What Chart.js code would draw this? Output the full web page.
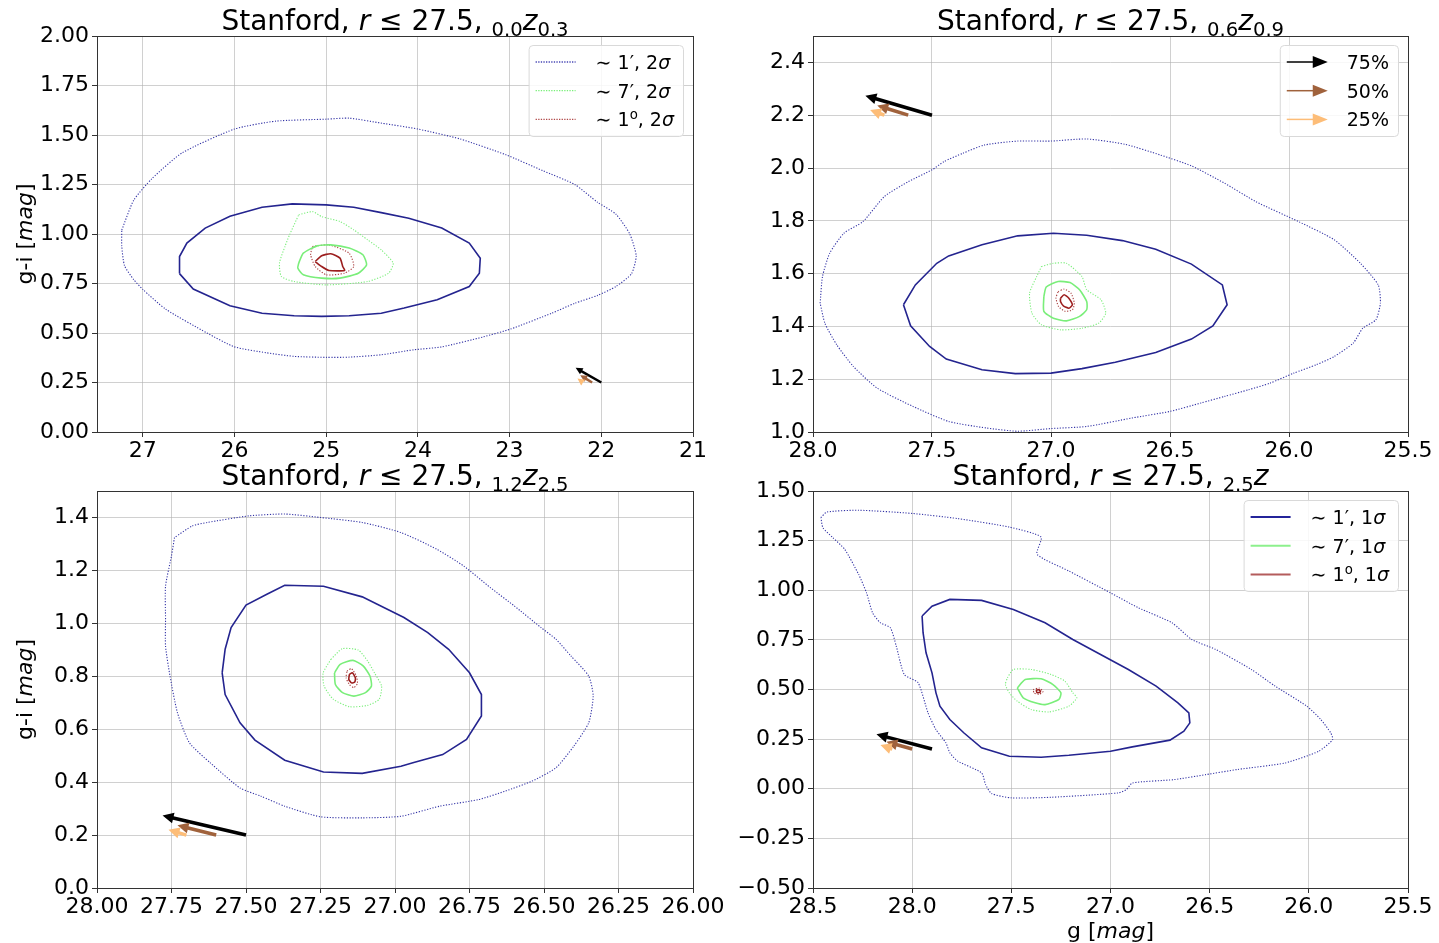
<!DOCTYPE html>
<html>
<head>
<meta charset="utf-8">
<script src="https://cdn.jsdelivr.net/npm/chart.js@4.4.1/dist/chart.umd.min.js"></script>
<style>
  body { margin: 0; background: #fff; width: 1439px; height: 943px; overflow: hidden; position: relative; }
  canvas { position: absolute; }
</style>
</head>
<body>
<canvas id="p1" width="740" height="470" style="left:0;top:0"></canvas>
<canvas id="p2" width="719" height="470" style="left:720px;top:0"></canvas>
<canvas id="p4" width="719" height="483" style="left:720px;top:460px"></canvas>
<canvas id="p3" width="740" height="483" style="left:0;top:460px"></canvas>
<script>
/* ── Data: contour vertices [g, g-i] ───────────────────────────────────── */
// panel 1 : 0.0 < z < 0.3
const p1Blue2s = [[27.23,1.02],[27.10,1.17],[26.90,1.28],[26.57,1.41],[26.00,1.53],[25.55,1.57],[25.00,1.58],[24.75,1.585],[24.40,1.56],[24.00,1.53],[23.54,1.48],[23.04,1.40],[22.64,1.32],[22.29,1.25],[22.04,1.16],[21.84,1.10],[21.69,1.00],[21.62,0.89],[21.67,0.80],[21.84,0.735],[22.04,0.69],[22.29,0.65],[22.54,0.60],[22.99,0.52],[23.29,0.48],[23.74,0.43],[24.05,0.415],[24.40,0.39],[24.75,0.378],[25.00,0.377],[25.35,0.382],[25.65,0.40],[26.00,0.43],[26.30,0.50],[26.75,0.62],[27.00,0.72],[27.10,0.77],[27.20,0.84],[27.23,0.94]];
const p1Blue1s = [[26.60,0.80],[26.60,0.886],[26.52,0.954],[26.32,1.03],[26.05,1.09],[25.70,1.135],[25.37,1.152],[25.00,1.147],[24.70,1.135],[24.40,1.108],[24.10,1.08],[23.74,1.03],[23.44,0.954],[23.32,0.878],[23.33,0.802],[23.44,0.735],[23.79,0.668],[24.15,0.626],[24.40,0.60],[24.75,0.587],[25.05,0.584],[25.35,0.587],[25.70,0.60],[26.05,0.638],[26.45,0.722]];
const p1Green2s = [[25.30,1.097],[25.15,1.113],[25.05,1.088],[24.85,1.063],[24.70,1.021],[24.55,0.971],[24.40,0.92],[24.27,0.853],[24.32,0.802],[24.55,0.76],[25.00,0.743],[25.35,0.76],[25.49,0.786],[25.51,0.853],[25.45,0.937],[25.40,0.996]];
const p1Green1s = [[25.30,0.853],[25.25,0.903],[25.10,0.94],[24.95,0.945],[24.75,0.929],[24.60,0.895],[24.56,0.844],[24.65,0.802],[24.85,0.777],[25.05,0.777],[25.25,0.794],[25.31,0.828]];
const p1Red2s = [[25.15,0.937],[24.97,0.945],[24.75,0.903],[24.70,0.836],[24.80,0.802],[25.00,0.794],[25.12,0.836],[25.17,0.895]];
const p1Red1s = [[25.12,0.861],[25.05,0.89],[24.95,0.90],[24.85,0.878],[24.82,0.836],[24.80,0.816],[24.97,0.816],[25.05,0.836]];

// panel 2 : 0.6 < z < 0.9
const p2Blue2s = [[27.97,1.488],[27.96,1.589],[27.93,1.677],[27.87,1.753],[27.79,1.797],[27.70,1.892],[27.60,1.948],[27.50,1.993],[27.45,2.024],[27.37,2.056],[27.28,2.087],[27.14,2.102],[27.00,2.102],[26.85,2.11],[26.69,2.09],[26.54,2.049],[26.41,2.008],[26.27,1.942],[26.14,1.873],[25.96,1.797],[25.81,1.728],[25.70,1.639],[25.625,1.557],[25.616,1.488],[25.635,1.425],[25.69,1.393],[25.73,1.337],[25.81,1.286],[25.885,1.255],[25.98,1.223],[26.08,1.185],[26.17,1.16],[26.27,1.135],[26.37,1.11],[26.50,1.078],[26.66,1.053],[26.85,1.021],[27.00,1.013],[27.14,1.003],[27.27,1.015],[27.43,1.04],[27.58,1.097],[27.73,1.166],[27.83,1.248],[27.90,1.33],[27.95,1.412]];
const p2Blue1s = [[27.62,1.482],[27.57,1.557],[27.48,1.639],[27.43,1.667],[27.29,1.709],[27.14,1.743],[26.99,1.753],[26.85,1.745],[26.70,1.725],[26.56,1.692],[26.41,1.636],[26.28,1.557],[26.26,1.482],[26.32,1.402],[26.41,1.352],[26.56,1.301],[26.73,1.264],[26.87,1.24],[27.00,1.223],[27.15,1.221],[27.29,1.236],[27.44,1.276],[27.51,1.324],[27.59,1.402]];
const p2Green2s = [[27.04,1.627],[26.99,1.639],[26.935,1.639],[26.87,1.589],[26.85,1.539],[26.79,1.501],[26.77,1.45],[26.80,1.412],[26.87,1.393],[26.96,1.387],[27.04,1.406],[27.08,1.45],[27.09,1.526],[27.06,1.589]];
const p2Green1s = [[27.03,1.513],[27.02,1.549],[26.97,1.57],[26.92,1.566],[26.88,1.539],[26.85,1.494],[26.85,1.463],[26.88,1.438],[26.935,1.421],[26.99,1.431],[27.03,1.457]];
const p2Red2s = [[26.97,1.532],[26.945,1.541],[26.916,1.526],[26.902,1.488],[26.91,1.463],[26.94,1.457],[26.968,1.475],[26.979,1.507]];
const p2Red1s = [[26.96,1.507],[26.945,1.52],[26.925,1.507],[26.91,1.482],[26.925,1.469],[26.948,1.478],[26.96,1.494]];

// panel 3 : 1.2 < z < 2.5
const p3Blue2s = [[27.74,1.324],[27.75,1.255],[27.77,1.141],[27.77,1.015],[27.77,0.914],[27.755,0.801],[27.73,0.662],[27.69,0.549],[27.62,0.473],[27.52,0.378],[27.45,0.347],[27.37,0.309],[27.25,0.269],[27.11,0.265],[26.98,0.271],[26.85,0.309],[26.72,0.334],[26.63,0.366],[26.54,0.404],[26.46,0.454],[26.40,0.536],[26.35,0.624],[26.335,0.725],[26.35,0.801],[26.41,0.877],[26.46,0.94],[26.51,0.984],[26.60,1.066],[26.68,1.135],[26.77,1.217],[26.86,1.28],[26.98,1.343],[27.11,1.381],[27.25,1.40],[27.37,1.413],[27.49,1.406],[27.63,1.381],[27.68,1.368]];
const p3Blue1s = [[27.58,0.813],[27.57,0.902],[27.55,0.984],[27.50,1.069],[27.43,1.11],[27.37,1.144],[27.24,1.14],[27.11,1.10],[26.97,1.022],[26.89,0.965],[26.82,0.902],[26.75,0.813],[26.71,0.731],[26.71,0.65],[26.76,0.561],[26.84,0.504],[26.94,0.473],[26.98,0.46],[27.11,0.433],[27.24,0.438],[27.37,0.483],[27.47,0.559],[27.52,0.624],[27.57,0.731]];
const p3Green2s = [[27.215,0.864],[27.177,0.904],[27.123,0.899],[27.092,0.858],[27.069,0.813],[27.045,0.763],[27.053,0.713],[27.092,0.69],[27.153,0.685],[27.207,0.713],[27.238,0.763],[27.241,0.813]];
const p3Green1s = [[27.203,0.813],[27.184,0.845],[27.141,0.86],[27.107,0.839],[27.084,0.801],[27.079,0.763],[27.099,0.738],[27.138,0.725],[27.176,0.738],[27.20,0.769]];
const p3Red2s = [[27.161,0.82],[27.146,0.829],[27.13,0.801],[27.126,0.773],[27.138,0.757],[27.153,0.769],[27.164,0.794]];
const p3Red1s = [[27.153,0.807],[27.143,0.813],[27.133,0.794],[27.135,0.778],[27.146,0.775],[27.155,0.788]];

// panel 4 : z > 2.5
const p4Blue2s = [[28.46,1.366],[28.43,1.394],[28.27,1.403],[28.00,1.387],[27.77,1.361],[27.51,1.318],[27.35,1.268],[27.37,1.181],[27.21,1.097],[27.00,0.987],[26.86,0.912],[26.69,0.836],[26.59,0.752],[26.47,0.702],[26.29,0.601],[26.17,0.517],[26.01,0.416],[25.94,0.349],[25.89,0.282],[25.88,0.248],[25.95,0.189],[26.12,0.13],[26.36,0.097],[26.52,0.071],[26.68,0.046],[26.89,0.029],[26.92,-0.004],[26.96,-0.021],[27.30,-0.043],[27.50,-0.046],[27.60,-0.024],[27.63,0.021],[27.65,0.08],[27.77,0.139],[27.81,0.181],[27.83,0.231],[27.88,0.298],[27.92,0.382],[27.97,0.534],[28.04,0.576],[28.08,0.718],[28.11,0.811],[28.16,0.836],[28.20,0.887],[28.23,0.987],[28.27,1.08],[28.34,1.206],[28.40,1.265],[28.45,1.315]];
const p4Blue1s = [[27.95,0.87],[27.90,0.92],[27.81,0.954],[27.65,0.949],[27.49,0.903],[27.33,0.836],[27.19,0.752],[27.05,0.676],[26.91,0.601],[26.77,0.517],[26.66,0.433],[26.605,0.382],[26.60,0.332],[26.63,0.29],[26.70,0.245],[26.89,0.211],[27.00,0.189],[27.21,0.169],[27.35,0.159],[27.51,0.164],[27.65,0.206],[27.74,0.282],[27.81,0.349],[27.86,0.416],[27.88,0.483],[27.90,0.584],[27.93,0.685],[27.945,0.786]];
const p4Green2s = [[27.52,0.559],[27.49,0.601],[27.40,0.601],[27.30,0.576],[27.23,0.542],[27.19,0.483],[27.17,0.458],[27.21,0.416],[27.31,0.387],[27.40,0.399],[27.47,0.441],[27.51,0.483],[27.53,0.525]];
const p4Green1s = [[27.47,0.508],[27.43,0.55],[27.35,0.554],[27.29,0.525],[27.25,0.483],[27.26,0.45],[27.33,0.424],[27.38,0.433],[27.44,0.458]];
const p4Red2s = [[27.39,0.50],[27.36,0.507],[27.34,0.49],[27.36,0.476],[27.385,0.482]];
const p4Red1s = [[27.375,0.497],[27.36,0.499],[27.353,0.488],[27.37,0.484]];

// reddening arrows: tails per panel, shared [dg, d(g-i)] per quantile
const arrowLabels = ['75%', '50%', '25%'];
const arrowDelta = [[0.28, 0.074], [0.13, 0.037], [0.06, 0.02]];
const p1ArrowTail = [[22.0, 0.25], [22.1, 0.25], [22.2, 0.25]];
const p2ArrowTail = [[27.5, 2.2], [27.6, 2.2], [27.7, 2.2]];
const p3ArrowTail = [[27.5, 0.2], [27.6, 0.2], [27.7, 0.2]];
const p4ArrowTail = [[27.9, 0.2], [28.0, 0.2], [28.1, 0.2]];

/* ── Styles ───────────────────────────────────────────────────────────── */
const FONT = '"DejaVu Sans", sans-serif';
const C_BLUE = '#24248f', C_BLUE_D = '#3434a6';
const C_GREEN = '#7aee7a';
const C_RED = '#9c1e1e', C_RED_D = '#a83c3c';
const ARROW_COL = ['#000000', '#a0623c', '#fdbd78'];

function fmt(v, d) { return v.toFixed(d).replace('-', '\u2212'); }

function segFont(s, size) {
  const sz = (s.sub || s.sup) ? size * 0.7 : size;
  return (s.it ? 'italic ' : '') + sz + 'px ' + FONT;
}
function richWidth(ctx, segs, size) {
  let w = 0;
  segs.forEach(s => { ctx.font = segFont(s, size); w += ctx.measureText(s.t).width; });
  return w;
}
function drawRich(ctx, segs, x, y, size, center) {
  let cx = center ? x - richWidth(ctx, segs, size) / 2 : x;
  ctx.textAlign = 'left';
  ctx.textBaseline = 'alphabetic';
  segs.forEach(s => {
    ctx.font = segFont(s, size);
    const dy = s.sub ? size * 0.2 : s.sup ? -size * 0.38 : 0;
    ctx.fillText(s.t, cx, y + dy);
    cx += ctx.measureText(s.t).width;
  });
}

function titleSegs(lo, hi) {
  const s = [{t: 'Stanford, '}, {t: 'r', it: true}, {t: ' \u2264 27.5, '}, {t: lo, sub: true}, {t: 'z', it: true}];
  if (hi) s.push({t: hi, sub: true});
  return s;
}
const magSegs = pre => [{t: pre + ' ['}, {t: 'mag', it: true}, {t: ']'}];
const legSegs = (ang, sig) => ang === 'deg'
  ? [{t: '\u223C 1'}, {t: 'o', sup: true}, {t: ', ' + sig}, {t: '\u03C3', it: true}]
  : [{t: '\u223C ' + ang + '\u2032, ' + sig}, {t: '\u03C3', it: true}];

function drawArrow(ctx, x0, y0, x1, y1, col, shaft, hw, hl) {
  const dx = x1 - x0, dy = y1 - y0, L = Math.hypot(dx, dy);
  const ux = dx / L, uy = dy / L, px = -uy, py = ux;
  const bx = x1 - ux * hl, by = y1 - uy * hl;
  ctx.fillStyle = col;
  ctx.beginPath();
  ctx.moveTo(x0 + px * shaft / 2, y0 + py * shaft / 2);
  ctx.lineTo(bx + px * shaft / 2, by + py * shaft / 2);
  ctx.lineTo(bx + px * hw / 2, by + py * hw / 2);
  ctx.lineTo(x1, y1);
  ctx.lineTo(bx - px * hw / 2, by - py * hw / 2);
  ctx.lineTo(bx - px * shaft / 2, by - py * shaft / 2);
  ctx.lineTo(x0 - px * shaft / 2, y0 - py * shaft / 2);
  ctx.closePath();
  ctx.fill();
}

/* ── Panel builder ─────────────────────────────────────────────────────── */
function contourSet(pts, color, width, dash, tension) {
  return {
    data: pts.concat([pts[0]]).map(p => ({x: p[0], y: p[1]})),
    showLine: true, pointRadius: 0, borderColor: color, borderWidth: width,
    borderDash: dash, tension: tension, fill: false
  };
}

function makePanel(id, cfg) {
  const decor = {
    id: 'decor' + id,
    afterDatasetsDraw(chart) {
      const ctx = chart.ctx, a = chart.chartArea, sx = chart.scales.x, sy = chart.scales.y;
      ctx.save();
      // arrows
      cfg.arrows.forEach((t, i) => {
        const x0 = sx.getPixelForValue(t[0]), y0 = sy.getPixelForValue(t[1]);
        const x1 = sx.getPixelForValue(t[0] + arrowDelta[i][0]);
        const y1 = sy.getPixelForValue(t[1] + arrowDelta[i][1]);
        drawArrow(ctx, x0, y0, x1, y1, ARROW_COL[i], cfg.arrowShaft, cfg.arrowHead, cfg.arrowHead);
      });
      // frame
      ctx.strokeStyle = '#333';
      ctx.lineWidth = 1;
      ctx.strokeRect(Math.round(a.left) + 0.5, Math.round(a.top) + 0.5,
        Math.round(a.right - a.left), Math.round(a.bottom - a.top));
      // title + axis labels
      ctx.fillStyle = '#000';
      drawRich(ctx, cfg.title, (a.left + a.right) / 2, a.top - 6, 28, true);
      if (cfg.ylabel) {
        ctx.save();
        ctx.translate(cfg.ylabelX, (a.top + a.bottom) / 2);
        ctx.rotate(-Math.PI / 2);
        drawRich(ctx, magSegs('g-i'), 0, 8, 22, true);
        ctx.restore();
      }
      if (cfg.xlabel) drawRich(ctx, magSegs('g'), (a.left + a.right) / 2, a.bottom + 50, 22, true);
      // legend
      if (cfg.legend) {
        const L = cfg.legend, fs = 19;
        const tw = Math.max(...L.map(e => richWidth(ctx, e.segs, fs)));
        const w = 7 + 40 + 20 + tw + 9, h = 91;
        const bx = a.right - 10 - w, by = a.top + 9;
        ctx.fillStyle = 'rgba(255,255,255,0.85)';
        ctx.strokeStyle = '#d9d9d9';
        ctx.lineWidth = 1;
        ctx.beginPath();
        ctx.roundRect(bx + 0.5, by + 0.5, w, h, 4);
        ctx.fill();
        ctx.stroke();
        L.forEach((e, i) => {
          const yy = by + 17 + i * 28.7, hx = bx + 7;
          if (e.arrow) {
            ctx.strokeStyle = e.color; ctx.lineWidth = 1.5; ctx.setLineDash([]);
            ctx.beginPath(); ctx.moveTo(hx, yy); ctx.lineTo(hx + 28, yy); ctx.stroke();
            ctx.fillStyle = e.color;
            ctx.beginPath(); ctx.moveTo(hx + 26, yy - 6); ctx.lineTo(hx + 41, yy); ctx.lineTo(hx + 26, yy + 6); ctx.closePath(); ctx.fill();
          } else {
            ctx.strokeStyle = e.color; ctx.lineWidth = e.dash ? 1.3 : 2;
            ctx.setLineDash(e.dash ? [1.3, 1.3] : []);
            ctx.beginPath(); ctx.moveTo(hx, yy); ctx.lineTo(hx + 40, yy); ctx.stroke();
            ctx.setLineDash([]);
          }
          ctx.fillStyle = '#000';
          drawRich(ctx, e.segs, hx + 60, yy + 7, fs, false);
        });
      }
      ctx.restore();
    }
  };

  const tickFont = {family: FONT, size: 22};
  const grid = {color: 'rgba(176,176,176,0.6)', lineWidth: 1, tickLength: 5, tickColor: '#333'};

  return new Chart(document.getElementById(id), {
    type: 'scatter',
    data: {
      datasets: [
        contourSet(cfg.c[0], C_BLUE_D, 1.1, [1.2, 1.6], 0.2),
        contourSet(cfg.c[1], C_BLUE, 1.6, [], 0),
        contourSet(cfg.c[2], C_GREEN, 1.1, [1.2, 1.6], 0.2),
        contourSet(cfg.c[3], C_GREEN, 1.6, [], 0.2),
        contourSet(cfg.c[4], C_RED_D, 1.1, [1.2, 1.6], 0.2),
        contourSet(cfg.c[5], C_RED, 1.6, [], 0.2)
      ]
    },
    options: {
      responsive: false,
      animation: false,
      devicePixelRatio: 1,
      layout: {padding: cfg.pad},
      plugins: {legend: {display: false}, tooltip: {enabled: false}},
      scales: {
        x: {
          type: 'linear', reverse: true, min: cfg.x[0], max: cfg.x[1],
          afterFit: s => { s.height = cfg.xH; },
          border: {display: false}, grid: grid,
          ticks: {stepSize: cfg.x[2], includeBounds: false, autoSkip: false, maxRotation: 0,
                  font: tickFont, color: '#000', padding: 1, callback: v => fmt(v, cfg.x[3])}
        },
        y: {
          type: 'linear', min: cfg.y[0], max: cfg.y[1],
          afterFit: s => { s.width = cfg.yW; },
          border: {display: false}, grid: grid,
          ticks: {stepSize: cfg.y[2], includeBounds: false, autoSkip: false,
                  font: tickFont, color: '#000', padding: 3, callback: v => fmt(v, cfg.y[3])}
        }
      }
    },
    plugins: [decor]
  });
}

const dotLeg = [
  {segs: legSegs('1', '2'), color: '#4646b4', dash: true},
  {segs: legSegs('7', '2'), color: '#78f078', dash: true},
  {segs: legSegs('deg', '2'), color: '#b04848', dash: true}
];
const solidLeg = [
  {segs: legSegs('1', '1'), color: '#24249a'},
  {segs: legSegs('7', '1'), color: '#8cf08c'},
  {segs: legSegs('deg', '1'), color: '#b45c5c'}
];
const arrowLeg = arrowLabels.map((t, i) => ({segs: [{t: t}], color: ARROW_COL[i], arrow: true}));

makePanel('p1', {
  c: [p1Blue2s, p1Blue1s, p1Green2s, p1Green1s, p1Red2s, p1Red1s],
  x: [21, 27.5, 1, 0], y: [0, 2, 0.25, 2],
  pad: {left: 0, right: 47, top: 36, bottom: 0}, xH: 38, yW: 97,
  title: titleSegs('0.0', '0.3'), ylabel: true, ylabelX: 24,
  arrows: p1ArrowTail, arrowShaft: 2.5, arrowHead: 7, legend: dotLeg
});
makePanel('p2', {
  c: [p2Blue2s, p2Blue1s, p2Green2s, p2Green1s, p2Red2s, p2Red1s],
  x: [25.5, 28, 0.5, 1], y: [1.0, 2.5, 0.2, 1],
  pad: {left: 0, right: 31, top: 36, bottom: 0}, xH: 38, yW: 93,
  title: titleSegs('0.6', '0.9'),
  arrows: p2ArrowTail, arrowShaft: 3.5, arrowHead: 11, legend: arrowLeg
});
makePanel('p3', {
  c: [p3Blue2s, p3Blue1s, p3Green2s, p3Green1s, p3Red2s, p3Red1s],
  x: [26, 28, 0.25, 2], y: [0, 1.5, 0.2, 1],
  pad: {left: 0, right: 47, top: 31, bottom: 0}, xH: 55, yW: 97,
  title: titleSegs('1.2', '2.5'), ylabel: true, ylabelX: 24,
  arrows: p3ArrowTail, arrowShaft: 3.5, arrowHead: 11
});
makePanel('p4', {
  c: [p4Blue2s, p4Blue1s, p4Green2s, p4Green1s, p4Red2s, p4Red1s],
  x: [25.5, 28.5, 0.5, 1], y: [-0.5, 1.5, 0.25, 2],
  pad: {left: 0, right: 31, top: 31, bottom: 0}, xH: 55, yW: 93,
  title: titleSegs('2.5'), xlabel: true,
  arrows: p4ArrowTail, arrowShaft: 3.5, arrowHead: 11, legend: solidLeg
});
</script>
</body>
</html>
